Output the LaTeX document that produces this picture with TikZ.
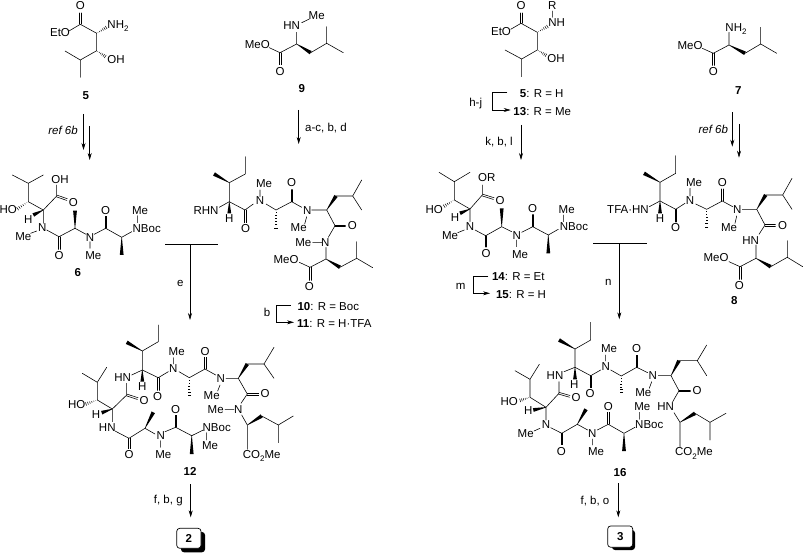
\documentclass[tikz,border=0pt]{standalone}
\usepackage{fontspec}
\setmainfont{Liberation Sans}
\usetikzlibrary{calc,arrows.meta}
\newcounter{labn}
\tikzset{
  bond/.style={line width=.58pt,line cap=round,line join=round},
  hashl/.style={line width=.5pt},
  atom/.style={inner sep=0pt,font=\fontsize{11.5}{12}\selectfont,text height=8.2pt,text depth=0pt},
  arr/.style={line width=.6pt,-{Stealth[length=7pt,width=4pt]}},
  plainl/.style={line width=.6pt},
  boxn/.style={draw,fill=white,line width=.7pt,rounded corners=3pt,inner sep=0pt,font=\fontsize{11.5}{12}\selectfont\bfseries}
}
\newcommand\lab[2]{\stepcounter{labn}\node[atom] (L\arabic{labn}) at (#1) {#2};}
\newcommand\wdg[2]{\coordinate (wa) at (#1);\coordinate (wb) at (#2);\fill ($(wa)!.2pt!90:(wb)$) -- ($(wa)!.2pt!-90:(wb)$) -- ($(wb)!1.9pt!90:(wa)$) -- ($(wb)!1.9pt!-90:(wa)$) -- cycle;}
\newcommand\hsh[2]{\coordinate (wa) at (#1);\coordinate (wb) at (#2);\foreach \t in {.12,.28,.44,.6,.76,.92}{\coordinate (hp) at ($(wa)!\t!(wb)$);\draw[hashl] ($(hp)!{1.9*\t*1pt}!90:(wb)$) -- ($(hp)!{1.9*\t*1pt}!-90:(wb)$);}}
\newcommand\dbl[2]{\coordinate (wa) at (#1);\coordinate (wb) at ($(#2)!1.3pt!(#1)$);\draw[bond] ($(wa)!.9pt!90:(wb)$) -- ($(wb)!.9pt!-90:(wa)$) ($(wa)!.9pt!-90:(wb)$) -- ($(wb)!.9pt!90:(wa)$);}
\newcommand\sbs[1]{\raisebox{-.28em}{\fontsize{8}{8}\selectfont #1}}
\begin{document}
\begin{tikzpicture}[x=1pt,y=-1pt]
\useasboundingbox (0,0) rectangle (803,553);
% ---------- 5 left
\lab{80.3,5.7}{O}\lab{60,32}{EtO}\lab{118,24}{NH\sbs{2}}\lab{116,59.5}{OH}\lab{85.7,95}{\textbf{5}}
\dbl{80.3,24}{80.3,11.7}
\draw[bond] (69,31)--(80.3,24.3)--(96.7,33.3)--(96.7,50.7)--(80.3,60)--(65,51) (80.3,60)--(80.3,77.3);
\hsh{96.7,33.3}{107,27}\hsh{96.7,50.7}{106,57}
\coordinate (a5s) at (83.5,114);\coordinate (a5e) at (83.5,150);\coordinate (b5s) at (89.7,126);\coordinate (b5e) at (89.7,160);
\draw[arr] (a5s)--(a5e);\draw[arr] (b5s)--(b5e);
\lab{63,130}{\textit{ref 6b}}
% ---------- 9
\lab{316.7,15.7}{Me}\lab{291.7,25.7}{HN}\lab{257.3,44.3}{MeO}\lab{280,71.3}{O}\lab{301.7,88.3}{\textbf{9}}
\draw[bond] (301.7,22.7)--(309.3,19) (296.7,32.3)--(296.7,44)--(280,52.7)--(269.3,47.7) (310.7,52.7)--(326.7,43.3)--(326.7,26.7) (326.7,43.3)--(343.3,52.7);
\dbl{280,52.7}{280,66}\wdg{296.7,44}{310.7,52.7}
\coordinate (a9s) at (298.7,110);\coordinate (a9e) at (298.7,144);\draw[arr] (a9s)--(a9e);
\lab{326,127.7}{a-c, b, d}
% ---------- 10
\lab{206,210.3}{RHN}\lab{229.3,218.3}{H}\lab{245.7,228}{O}\lab{260,200.7}{N}\lab{264,183}{Me}\lab{291.7,182.7}{O}\lab{307.3,210.3}{N}\lab{298.7,227.7}{Me}\lab{352.3,225.7}{O}\lab{325.3,242.3}{N}\lab{303.3,242}{Me}\lab{286,259}{MeO}\lab{309.3,286}{O}
\draw[bond] (245.3,156.7)--(245.3,174)--(229.3,182.7)--(229.3,201.7)--(245,210)--(253.3,204) (219.3,207.3)--(229.3,201.7) (260,190)--(260,196.7) (266,204)--(276,210)--(291.7,201.7)--(301.7,207.3) (306.7,216.7)--(304.7,224) (311.7,210)--(326.7,210)--(335,225.7)--(328.3,237.3) (336,196)--(352.7,196)--(361.7,180) (352.7,196)--(361.7,210) (312.7,242.3)--(321.7,242.3) (326,247.3)--(326,259)--(310,267.3)--(299.3,262.3) (340,267.3)--(356.7,258.3)--(356.7,241.7) (356.7,258.3)--(372.7,267.7);
\wdg{229.3,182.7}{214,174}\wdg{229.3,201.7}{229.3,213.3}\hsh{276,210}{276,229.3}\wdg{326.7,210}{336,196}\wdg{326,259}{340,267.3}
\dbl{245,210}{245,224}\dbl{291.7,201.7}{291.7,188.3}\dbl{335,225.7}{346.7,225.7}\dbl{310,267.3}{310,281.7}
% ---------- 6
\lab{8.3,209.3}{HO}\lab{60,179.3}{OH}\lab{73.3,202.3}{O}\lab{28.3,219}{H}\lab{42.3,227.3}{N}\lab{23.3,236.7}{Me}\lab{59,255}{O}\lab{90,237.3}{N}\lab{93.3,255}{Me}\lab{105.7,210}{O}\lab{146.7,228.3}{NBoc}\lab{140,210}{Me}\lab{77.7,272.7}{\textbf{6}}
\draw[bond] (12.3,175)--(28.3,183.3)--(43.3,175) (28.3,183.3)--(28.3,201.7)--(43.3,210)--(56.7,196)--(56.7,185) (43.3,210)--(43.3,223.3) (36.7,231)--(30.7,233.3) (46.7,230)--(59,236.7)--(75,228.3)--(86,234.3) (90,241.7)--(90,248.3) (94.3,234.3)--(105.7,228.3)--(121.7,237.3)--(131.7,231.7) (137.3,215.7)--(137.3,222.7);
\hsh{28.3,201.7}{16.7,209.3}\wdg{43.3,210}{33.3,215}\wdg{75,228.3}{75,210.7}\wdg{121.7,237.3}{121.7,255}
\dbl{56.7,196}{68.3,200}\dbl{59,236.7}{59,250.7}\dbl{105.7,228.3}{105.7,215}
% ---------- T left
\coordinate (t1l) at (165,244.3);\coordinate (t1r) at (218.3,244.3);\coordinate (t1m) at (190,244.3);\coordinate (t1e) at (190,320);
\draw[plainl] (t1l)--(t1r);\draw[arr] (t1m)--(t1e);
\lab{180.3,282.7}{e}
% ---------- 10/11 labels
\lab{328.3,306.7}{\textbf{10}: R = Boc}\lab{334.3,323.3}{\textbf{11}: R = H·TFA}\lab{267,312.7}{b}
\coordinate (b1s) at (290.7,305.7);\coordinate (b1e) at (294,322.3);
\draw[arr] (b1s)--(276,305.7)--(276,322.3)--(b1e);
% ---------- 12
\lab{122.7,377.7}{HN}\lab{142.3,386.7}{H}\lab{157.7,396}{O}\lab{173.3,368.3}{N}\lab{176.7,351}{Me}\lab{205,351}{O}\lab{220.7,378.3}{N}\lab{211.7,395.7}{Me}\lab{265,393.7}{O}\lab{238.3,409.3}{N}\lab{215.7,409.3}{Me}\lab{261.7,454.3}{CO\sbs{2}Me}
\lab{76.7,404.7}{HO}\lab{144,400.7}{O}\lab{96,414}{H}\lab{107.3,427.3}{HN}\lab{129,454}{O}\lab{160.7,435.7}{N}\lab{163.3,454}{Me}\lab{175.7,409}{O}\lab{216.7,427.3}{NBoc}\lab{210,445.3}{Me}\lab{190,471.7}{\textbf{12}}
\draw[bond] (158.3,325)--(158.3,341.7)--(142.3,351)--(142.3,370)--(158.3,377.7)--(168.3,371.7) (131.7,375)--(142.3,370) (173.3,357.7)--(173.3,364) (179,371.7)--(189.3,377.7)--(205,369)--(215.7,375) (220,385)--(217.7,391) (226,378.3)--(238.3,378.3)--(247.3,394)--(241,403.3) (247.3,364)--(264,364)--(274,347.3) (264,364)--(274,378.3) (225,409.3)--(234,409.3) (241.7,415)--(247.3,425)--(247.3,449.3) (261.7,416)--(278.3,425)--(293.3,416) (278.3,425)--(278.3,442.7);
\draw[bond] (82.3,373.3)--(97.3,382.3)--(106.7,367.3) (97.3,382.3)--(97.3,400)--(112.3,409)--(126.7,395)--(126.7,383.3) (112.3,409)--(112.3,421.7) (115,431)--(129,438.3)--(145,428.3)--(155,434) (160.7,440.7)--(160.7,447.3) (165,431.7)--(175.7,427.3)--(191.7,435.7)--(203.3,430) (206.7,432.7)--(206.7,440);
\wdg{142.3,351}{126.7,342.3}\wdg{142.3,370}{142.3,381.7}\hsh{189.3,377.7}{189.3,396.7}\wdg{238.3,378.3}{247.3,364}\wdg{247.3,425}{261.7,416}\hsh{97.3,400}{85,404.3}\wdg{112.3,409}{101.7,412.7}\wdg{145,428.3}{153.3,412.3}\wdg{191.7,435.7}{191.7,454}
\dbl{158.3,377.7}{158.3,391.7}\dbl{205,369}{205,356}\dbl{247.3,394}{260,394}\dbl{126.7,395}{139,399}\dbl{129,438.3}{129,450}\dbl{175.7,427.3}{175.7,414}
\coordinate (a12s) at (190.7,484);\coordinate (a12e) at (190.7,517.3);\draw[arr] (a12s)--(a12e);
\lab{168.3,499.3}{f, b, g}
\fill[rounded corners=3pt] (181,532) rectangle (205,552.3);
\node[boxn,minimum width=24.3pt,minimum height=20pt] (box2) at (188.9,538.3) {2};
% ---------- 5/13 right
\lab{521,5}{O}\lab{501,31.7}{EtO}\lab{556.7,22.7}{NH}\lab{552.3,5}{R}\lab{556,58.7}{OH}
\dbl{521,23.3}{521,11.7}
\draw[bond] (510.7,29.3)--(521,23.3)--(537.3,32.3)--(537.3,50)--(521.7,59)--(505,50) (521.7,59)--(521.7,76.7) (552.3,11)--(552.3,17.3);
\hsh{537.3,32.3}{548.3,26}\hsh{537.3,50}{546.7,55.7}
\lab{541.7,93.3}{\textbf{5}: R = H}\lab{542.3,111}{\textbf{13}: R = Me}\lab{475.7,102.7}{h-j}
\coordinate (b2s) at (507.3,92.3);\coordinate (b2e) at (510.7,110);
\draw[arr] (b2s)--(492.3,92.3)--(492.3,110)--(b2e);
\lab{499,141}{k, b, l}
\coordinate (a13s) at (521,125);\coordinate (a13e) at (521,160);\draw[arr] (a13s)--(a13e);
% ---------- 14
\lab{434.3,209}{HO}\lab{486.7,177.7}{OR}\lab{500,200.7}{O}\lab{455,217.3}{H}\lab{470,226}{N}\lab{450,235.7}{Me}\lab{486,253.3}{O}\lab{516.7,235.3}{N}\lab{520,254}{Me}\lab{532.7,208.3}{O}\lab{574,226}{NBoc}\lab{566.7,209}{Me}
\draw[bond] (439,172.3)--(454.3,181.7)--(470,172.3) (454.3,181.7)--(454.3,200)--(470,209)--(482.3,195)--(482.3,185) (470,209)--(470,221.7) (464.3,230)--(457.7,232.7) (475,230)--(485.7,235.7)--(501.7,226.7)--(511.7,231.7) (516.7,240)--(516.7,246.7) (521.7,232.3)--(532.7,226.7)--(548.3,235)--(558.3,229.3) (563.3,215)--(563.3,221.7);
\hsh{454.3,200}{443.3,206.7}\wdg{470,209}{460,213.3}\wdg{501.7,226.7}{501.7,208.3}\wdg{548.3,235}{548.3,253.3}
\dbl{482.3,195}{495,199}\dbl{485.7,235.7}{485.7,248.3}\dbl{532.7,226.7}{532.7,213.3}
\lab{518.3,276.7}{\textbf{14}: R = Et}\lab{521,294.3}{\textbf{15}: R = H}\lab{460.7,285.7}{m}
\coordinate (b3s) at (488.3,276);\coordinate (b3e) at (490,293.3);
\draw[arr] (b3s)--(473.3,276)--(473.3,293.3)--(b3e);
% ---------- T right
\coordinate (t2l) at (593.3,243.3);\coordinate (t2r) at (647.3,243.3);\coordinate (t2m) at (619.3,243.3);\coordinate (t2e) at (619.3,319.3);
\draw[plainl] (t2l)--(t2r);\draw[arr] (t2m)--(t2e);
\lab{608.3,281}{n}
% ---------- 7
\lab{736,27.3}{NH\sbs{2}}\lab{690,45}{MeO}\lab{713.3,71.7}{O}\lab{738.3,90}{\textbf{7}}
\draw[bond] (729,32.3)--(729,45)--(713.3,53.3)--(702.3,48.3) (745,53.3)--(760.7,44)--(760.7,27.3) (760.7,44)--(776.7,53.3);
\wdg{729,45}{745,53.3}\dbl{713.3,53.3}{713.3,66.7}
\coordinate (a7s) at (732.3,112.3);\coordinate (a7e) at (732.3,146.7);\coordinate (b7s) at (739,124);\coordinate (b7e) at (739,157.7);
\draw[arr] (a7s)--(a7e);\draw[arr] (b7s)--(b7e);
\lab{713.3,129.3}{\textit{ref 6b}}
% ---------- 8
\lab{628,209}{TFA·HN}\lab{660,218.3}{H}\lab{675.7,227.3}{O}\lab{690,200}{N}\lab{694,182}{Me}\lab{722.3,182}{O}\lab{737.3,209.3}{N}\lab{729,227}{Me}\lab{782.7,225}{O}\lab{750.7,240}{HN}\lab{716,257.7}{MeO}\lab{739.3,285}{O}\lab{734.3,300.7}{\textbf{8}}
\draw[bond] (675.7,155.7)--(675.7,173.3)--(660,182.3)--(660,201)--(675.7,209.3)--(685,203.3) (649.3,206.7)--(660,201) (690,188.3)--(690,196) (695.7,204)--(706.7,209.3)--(722.3,201)--(732.7,206.7) (736.7,216)--(735,223.3) (742.3,209.3)--(756.7,209.3)--(765,225)--(759,234.3) (765.7,195)--(782.7,195)--(792,178.3) (782.7,195)--(792,209.3) (756,245)--(756,258.3)--(740,266.7)--(729,261.7) (770.7,266.7)--(787.3,257.3)--(787.3,240.7) (787.3,257.3)--(802.7,266.7);
\wdg{660,182.3}{644,173.3}\wdg{660,201}{660,213.3}\hsh{706.7,209.3}{706.7,228.3}\wdg{756.7,209.3}{765.7,195}\wdg{756,258.3}{770.7,266.7}
\dbl{675.7,209.3}{675.7,223.3}\dbl{722.3,201}{722.3,187.7}\dbl{765,225}{776.7,225}\dbl{740,266.7}{740,280.7}
% ---------- 16
\lab{555,375}{HN}\lab{574.3,384.3}{H}\lab{590,393.7}{O}\lab{605.7,366}{N}\lab{609,348.3}{Me}\lab{636.7,348.3}{O}\lab{652.7,375.7}{N}\lab{643.3,392.3}{Me}\lab{697,390.7}{O}\lab{665.7,406.7}{HN}\lab{694,451.7}{CO\sbs{2}Me}
\lab{509.3,401.7}{HO}\lab{576,397.7}{O}\lab{528.3,410.7}{H}\lab{546,424.3}{N}\lab{525.7,433.3}{Me}\lab{561.3,451.3}{O}\lab{592.3,433.3}{N}\lab{596,451.3}{Me}\lab{608.3,406}{O}\lab{649.3,424.3}{NBoc}\lab{642.3,406}{Me}\lab{620,472.3}{\textbf{16}}
\draw[bond] (590.7,322.3)--(590.7,340)--(575,349)--(575,367.3)--(590.7,375.7)--(600.7,370) (564,371.7)--(575,367.3) (605.7,355)--(605.7,361) (610.7,370)--(621.3,376)--(636.7,367.3)--(647.7,372.7) (651.7,381.7)--(649.3,388.3) (658.3,375.7)--(671,375.7)--(679,390.7)--(672.7,401.7) (679,360.7)--(697.3,360.7)--(706.7,345) (697.3,360.7)--(706.7,375.7) (674,412.7)--(680,422.3)--(680,446.7) (695,413.3)--(710,422.3)--(726,413.3) (710,422.3)--(710,440);
\draw[bond] (515,370.7)--(530,379.3)--(539.3,364.3) (530,379.3)--(530,397.3)--(546,407.3)--(559,393.3)--(559,381.7) (546,407.3)--(546,420) (540,428.3)--(534,431) (550.7,427.7)--(561.7,433.3)--(577.3,424.3)--(587.7,430) (592.3,439)--(592.3,445) (597.3,430)--(608.3,424.3)--(624,433.3)--(635,427.3) (639.3,412.3)--(639.3,419.3);
\wdg{575,349}{559,340}\wdg{575,367.3}{575,379.3}\hsh{621.3,376}{621.3,394}\wdg{671,375.7}{679,360.7}\wdg{680,422.3}{695,413.3}\hsh{530,397.3}{519.3,400.7}\wdg{546,407.3}{533.3,410}\wdg{577.3,424.3}{586,409.3}\wdg{624,433.3}{624,451}
\dbl{590.7,375.7}{590.7,389}\dbl{636.7,367.3}{636.7,354}\dbl{679,390.7}{691.7,390.7}\dbl{559,393.3}{571,396.7}\dbl{561.7,433.3}{561.7,446}\dbl{608.3,424.3}{608.3,411}
\coordinate (a16s) at (618.3,483.3);\coordinate (a16e) at (618.3,517.3);\draw[arr] (a16s)--(a16e);
\lab{595,500}{f, b, o}
\fill[rounded corners=3pt] (612,530) rectangle (635,550);
\node[boxn,minimum width=25pt,minimum height=21.3pt] (box3) at (620.2,536.6) {3};
\end{tikzpicture}
\end{document}
